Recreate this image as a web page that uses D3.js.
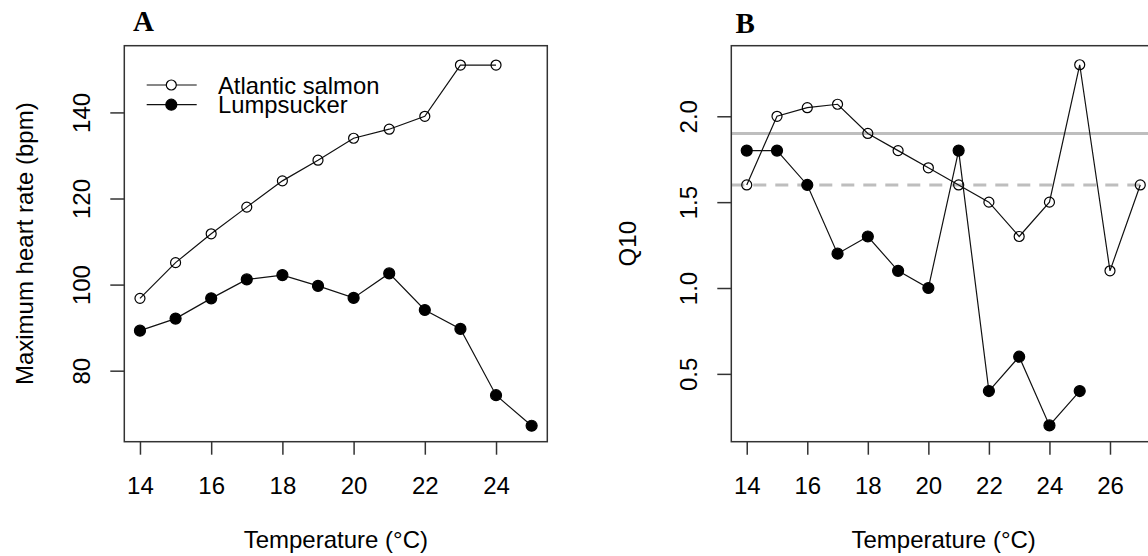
<!DOCTYPE html>
<html>
<head>
<meta charset="utf-8">
<script src="https://cdn.jsdelivr.net/npm/d3@7"></script>
<style>
  body { margin: 0; background: #fff; }
  svg text { font-family: "Liberation Sans", Arial, sans-serif; fill: #000; }
</style>
</head>
<body>
<svg id="chart" width="1148" height="556"></svg>
<script>
// panel A - maximum heart rate
const tempSalmonA = [14, 15, 16, 17, 18, 19, 20, 21, 22, 23, 24];
const salmonHR = [96.8, 105.1, 111.8, 118, 124.1, 128.9, 134, 136.1, 139.1, 151, 151];
const tempLumpA = [14, 15, 16, 17, 18, 19, 20, 21, 22, 23, 24, 25];
const lumpHR = [89.3, 92.1, 96.8, 101.2, 102.2, 99.7, 96.9, 102.6, 94.1, 89.7, 74.3, 67.2];
const xTicksA = [14, 16, 18, 20, 22, 24];
const yTicksA = [80, 100, 120, 140];

// panel B - Q10
const tempSalmonB = [14, 15, 16, 17, 18, 19, 20, 21, 22, 23, 24, 25, 26, 27];
const salmonQ10 = [1.6, 2.0, 2.05, 2.07, 1.9, 1.8, 1.7, 1.6, 1.5, 1.3, 1.5, 2.3, 1.1, 1.6];
const tempLumpB = [14, 15, 16, 17, 18, 19, 20, 21, 22, 23, 24, 25];
const lumpQ10 = [1.8, 1.8, 1.6, 1.2, 1.3, 1.1, 1.0, 1.8, 0.4, 0.6, 0.2, 0.4];
const xTicksB = [14, 16, 18, 20, 22, 24, 26];
const yTicksB = ["0.5", "1.0", "1.5", "2.0"];
const refLines = [{ value: 1.9, dashed: false }, { value: 1.6, dashed: true }];

const svg = d3.select("#chart");
const plotTop = 45.7, plotBottom = 441.7;

function panel(opt) {
    const g = svg.append("g");
    const x = d3.scaleLinear().domain(opt.xDomain).range([opt.left, opt.right]);
    const y = d3.scaleLinear().domain(opt.yDomain).range([plotBottom, plotTop]);

    // clip for lines inside plot region
    const clipId = "clip" + opt.id;
    svg.append("clipPath").attr("id", clipId)
        .append("rect")
        .attr("x", opt.left).attr("y", plotTop)
        .attr("width", opt.right - opt.left).attr("height", plotBottom - plotTop);

    // reference lines
    (opt.refs || []).forEach(r => {
        g.append("line")
            .attr("clip-path", `url(#${clipId})`)
            .attr("x1", opt.left).attr("x2", opt.right)
            .attr("y1", y(r.value)).attr("y2", y(r.value))
            .attr("stroke", "#bebebe")
            .attr("stroke-width", 3)
            .attr("stroke-dasharray", r.dashed ? "13,9" : null);
    });

    // series
    opt.series.forEach(s => {
        const pts = s.xs.map((t, i) => [t, s.ys[i]]);
        g.append("path")
            .datum(pts)
            .attr("clip-path", `url(#${clipId})`)
            .attr("fill", "none")
            .attr("stroke", "#111")
            .attr("stroke-width", 1.2)
            .attr("d", d3.line().x(d => x(d[0])).y(d => y(d[1])));
        g.selectAll(null)
            .data(pts)
            .enter()
            .append("circle")
            .attr("cx", d => x(d[0]))
            .attr("cy", d => y(d[1]))
            .attr("r", s.filled ? 5.5 : 5)
            .attr("fill", s.filled ? "#000" : "none")
            .attr("stroke", "#000")
            .attr("stroke-width", 1.2);
    });

    // box
    g.append("rect")
        .attr("x", opt.left).attr("y", plotTop)
        .attr("width", opt.right - opt.left).attr("height", plotBottom - plotTop)
        .attr("fill", "none")
        .attr("stroke", "#333")
        .attr("stroke-width", 1.5);

    // x axis (R style)
    const xAxis = g.append("g")
        .attr("transform", `translate(0, ${plotBottom})`)
        .call(d3.axisBottom(x).tickValues(opt.xTicks).tickSize(13).tickPadding(22).tickSizeOuter(0));
    xAxis.select(".domain").remove();
    xAxis.selectAll("line").attr("stroke", "#333").attr("stroke-width", 1.5);
    xAxis.selectAll("text")
        .attr("font-family", "Liberation Sans, Arial, sans-serif")
        .attr("font-size", 24)
        .attr("fill", "#000");

    // y axis with rotated labels
    const yAxis = g.append("g")
        .attr("transform", `translate(${opt.left}, 0)`)
        .call(d3.axisLeft(y).tickValues(opt.yTicks.map(Number)).tickFormat((d, i) => opt.yTicks[i]).tickSize(14).tickSizeOuter(0));
    yAxis.select(".domain").remove();
    yAxis.selectAll("line").attr("stroke", "#333").attr("stroke-width", 1.5);
    yAxis.selectAll("text")
        .attr("font-family", "Liberation Sans, Arial, sans-serif")
        .attr("font-size", 24)
        .attr("fill", "#000")
        .attr("x", 0).attr("dy", 0)
        .attr("text-anchor", "middle")
        .attr("transform", "translate(-34.5, 0) rotate(-90)");

    // axis titles
    svg.append("text")
        .text("Temperature (°C)")
        .attr("x", (opt.left + opt.right) / 2)
        .attr("y", 548)
        .attr("font-size", 24)
        .attr("text-anchor", "middle");

    svg.append("text")
        .text(opt.yTitle)
        .attr("transform", `translate(${opt.yTitleX}, ${(plotTop + plotBottom) / 2}) rotate(-90)`)
        .attr("font-size", 24)
        .attr("text-anchor", "middle");

    // panel letter
    svg.append("text")
        .text(opt.letter)
        .attr("x", opt.letterX)
        .attr("y", opt.letterY)
        .style("font-family", "Liberation Serif, Times New Roman, serif")
        .style("font-weight", 700)
        .style("font-size", "29px");

    return { x, y };
}

panel({
    id: "A", left: 124.3, right: 547.3,
    xDomain: [13.56, 25.44], yDomain: [63.5, 155.5],
    xTicks: xTicksA, yTicks: yTicksA.map(String),
    series: [
        { xs: tempSalmonA, ys: salmonHR, filled: false },
        { xs: tempLumpA, ys: lumpHR, filled: true }
    ],
    yTitle: "Maximum heart rate (bpm)", yTitleX: 33,
    letter: "A", letterX: 133, letterY: 31
});

panel({
    id: "B", left: 731.3, right: 1156,
    xDomain: [13.49, 27.52], yDomain: [0.105, 2.411],
    xTicks: xTicksB, yTicks: yTicksB,
    refs: refLines,
    series: [
        { xs: tempSalmonB, ys: salmonQ10, filled: false },
        { xs: tempLumpB, ys: lumpQ10, filled: true }
    ],
    yTitle: "Q10", yTitleX: 636,
    letter: "B", letterX: 735.5, letterY: 32.5
});

// legend in panel A
const legend = svg.append("g");
const legendItems = [
    { label: "Atlantic salmon", filled: false, y: 85 },
    { label: "Lumpsucker", filled: true, y: 104.7 }
];
legendItems.forEach(item => {
    legend.append("line")
        .attr("x1", 146.7).attr("x2", 196.7)
        .attr("y1", item.y).attr("y2", item.y)
        .attr("stroke", "#111").attr("stroke-width", 1.2);
    legend.append("circle")
        .attr("cx", 171.3).attr("cy", item.y)
        .attr("r", item.filled ? 5.5 : 5)
        .attr("fill", item.filled ? "#000" : "#fff")
        .attr("stroke", "#000").attr("stroke-width", 1.2);
    legend.append("text")
        .text(item.label)
        .attr("x", 218)
        .attr("y", item.y + 8.5)
        .attr("font-size", 23.8);
});
</script>
</body>
</html>
